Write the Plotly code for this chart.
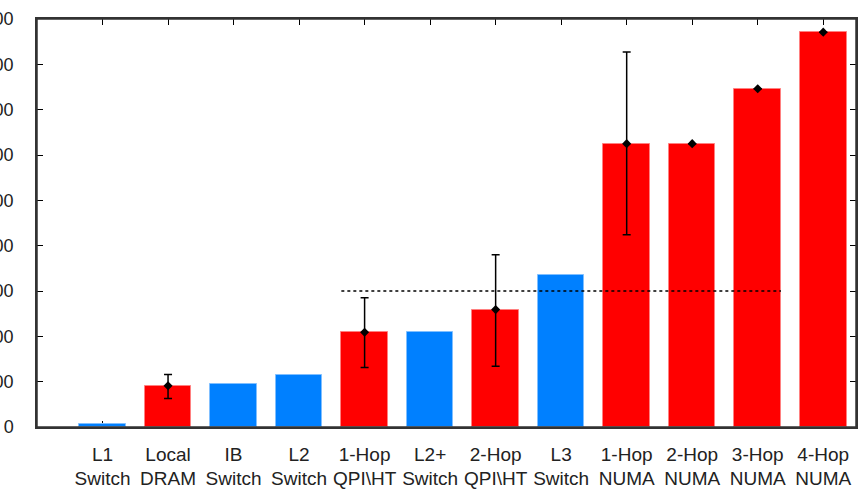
import plotly.graph_objects as go

# ---- data ----
categories = ["L1<br>Switch", "Local<br>DRAM", "IB<br>Switch", "L2<br>Switch",
              "1-Hop<br>QPI\\HT", "L2+<br>Switch", "2-Hop<br>QPI\\HT", "L3<br>Switch",
              "1-Hop<br>NUMA", "2-Hop<br>NUMA", "3-Hop<br>NUMA", "4-Hop<br>NUMA"]
values = [6, 91, 95, 115, 209, 210, 259, 335, 625, 625, 746, 871]
is_switch = [True, False, True, True, False, True, False, True, False, False, False, False]
err_plus = [None, 25, None, None, 76, None, 121, None, 202, 0, 0, 0]
err_minus = [None, 28, None, None, 78, None, 125, None, 201, 0, 0, 0]
ref_value = 300
ref_from = "1-Hop<br>QPI\\HT"
ref_to = "3-Hop<br>NUMA"
y_ticks = [0, 100, 200, 300, 400, 500, 600, 700, 800, 900]

# ---- styles ----
RED = "#ff0000"
BLUE = "#0080ff"
BAR_W = 0.71
FONT = "Liberation Sans"

idx = list(range(len(categories)))
colors = [BLUE if s else RED for s in is_switch]
edge = ["#80bfff" if s else "#ff8080" for s in is_switch]

fig = go.Figure()
fig.add_trace(go.Bar(x=idx, y=values, width=BAR_W,
                     marker=dict(color=colors, line=dict(color=edge, width=1)),
                     hoverinfo="skip"))

ex = [i for i in idx if err_plus[i] is not None]
fig.add_trace(go.Scatter(
    x=ex, y=[values[i] for i in ex], mode="markers",
    marker=dict(symbol="diamond", size=7, color="black"),
    error_y=dict(type="data", symmetric=False,
                 array=[err_plus[i] for i in ex],
                 arrayminus=[err_minus[i] for i in ex],
                 color="black", thickness=1.5, width=4),
))

x0 = categories.index(ref_from) - BAR_W / 2
x1 = categories.index(ref_to) + BAR_W / 2
fig.add_trace(go.Scatter(x=[x0, x1], y=[ref_value, ref_value], mode="lines",
                         line=dict(color="black", width=1.5, dash="3px,3px")))

fig.update_layout(
    width=860, height=492, template="none", showlegend=False,
    margin=dict(l=37, r=4, t=19, b=65),
    paper_bgcolor="white", plot_bgcolor="white",
    font=dict(family=FONT, size=18, color="#222222"),
    bargap=0,
    shapes=[dict(type="rect", xref="paper", yref="paper", x0=0, x1=1, y0=0, y1=1,
                 line=dict(color="#333333", width=1.5), layer="above")],
)
fig.update_xaxes(range=[-1.0, 11.5], tickvals=idx, ticktext=categories,
                 showgrid=False, zeroline=False, showline=True, linecolor="#333333",
                 linewidth=1.5, mirror="ticks", ticks="inside", ticklen=6,
                 tickcolor="black", tickwidth=1, layer="below traces",
                 automargin=False, ticklabelstandoff=9,
                 tickfont=dict(family=FONT, size=19, color="#222222"))
fig.update_yaxes(range=[0, 900], tickvals=y_ticks,
                 showgrid=False, zeroline=False, showline=True, linecolor="#333333",
                 linewidth=1.5, mirror="ticks", ticks="inside", ticklen=6,
                 tickcolor="black", tickwidth=1, layer="below traces",
                 automargin=False, ticklabelstandoff=18,
                 tickfont=dict(family=FONT, size=18, color="#222222"))

fig.write_html("out.html")
